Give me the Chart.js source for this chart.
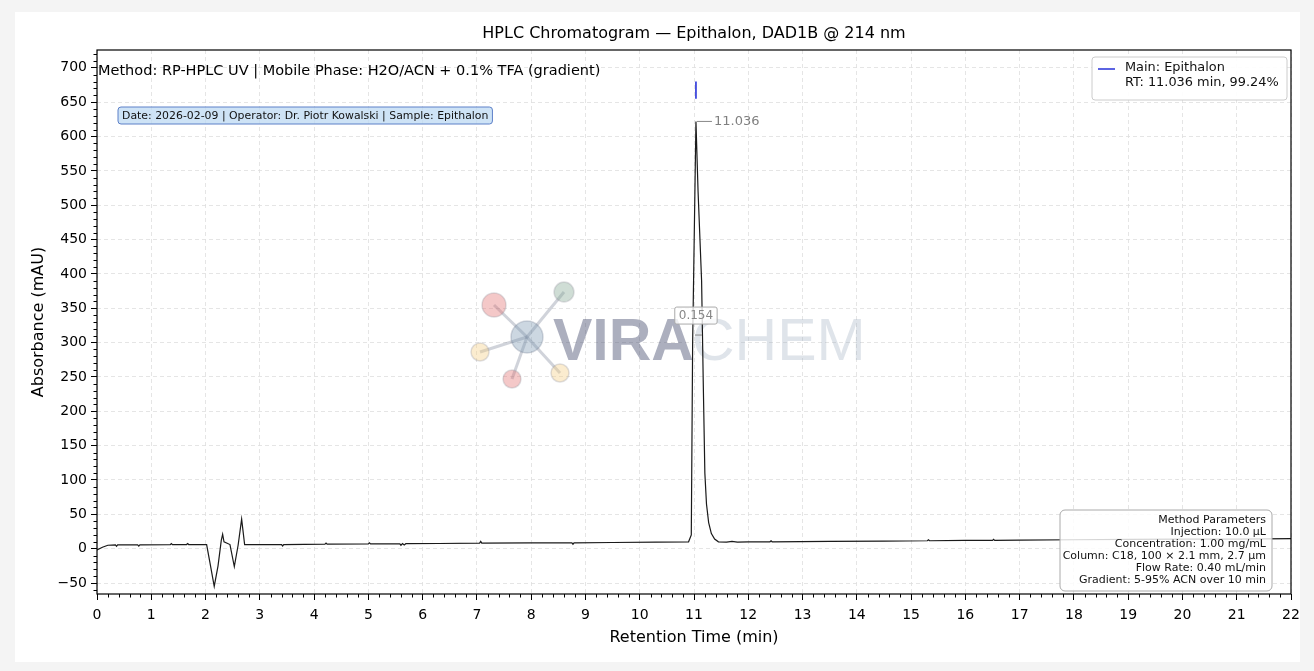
<!DOCTYPE html>
<html>
<head>
<meta charset="utf-8">
<script src="https://cdn.jsdelivr.net/npm/chart.js@4.4.1/dist/chart.umd.min.js"></script>
<style>
  html, body { margin: 0; padding: 0; background: #f4f4f4; }
  canvas { display: block; }
</style>
</head>
<body>
<canvas id="chart" width="1314" height="671"></canvas>
<script>
// retention time (min) and absorbance (mAU)
const times = [
  0.00, 0.10, 0.20, 0.34, 0.36, 0.38, 0.75, 0.77, 0.79, 1.35, 1.37, 1.39,
  1.65, 1.67, 1.69, 2.02, 2.08, 2.16, 2.23, 2.29, 2.315, 2.34, 2.45, 2.53,
  2.60, 2.665, 2.72, 3.00, 3.40, 3.42, 3.44, 4.20, 4.22, 4.24, 5.00, 5.02,
  5.04, 5.58, 5.60, 5.63, 5.66, 5.69, 6.30, 7.05, 7.07, 7.09, 8.00, 8.75,
  8.77, 8.79, 9.50, 10.30, 10.90, 10.95, 10.975, 11.036,
  11.075, 11.14, 11.17, 11.20, 11.23, 11.27, 11.32, 11.38, 11.45,
  11.60, 11.70, 11.80, 12.00, 12.40, 12.42, 12.44, 13.50, 14.50, 15.30, 15.32, 15.34,
  16.00, 16.50, 16.52, 16.54, 17.00, 18.00, 19.00, 20.00, 21.00, 22.00
];
const absorbance = [
  -2, 2, 5, 5.5, 3.5, 5.5, 5.5, 3.8, 5.6, 5.8, 7.5, 5.8,
  6, 7.5, 6, 6, -20, -55, -25, 12, 21, 10, 6, -26,
  5, 43, 6, 6, 6, 4, 6, 6.5, 8, 6.5, 7, 8.5,
  7, 7, 5, 7.5, 5.5, 7.2, 7.5, 8, 10.5, 8, 8.5, 8.5,
  6.5, 8.5, 9, 9.5, 10, 20, 300, 622,
  520, 390, 244, 110, 65, 38, 22, 14, 10,
  9.5, 10.5, 9.5, 10, 10, 11.5, 10, 10.5, 11, 11.5, 13, 11.5,
  12, 12, 13.5, 12, 12.5, 13, 13.5, 13.8, 14, 14.5
];

// main peak marker and summary
const markerTimes = [11.036, 11.036];
const markerLevels = [655, 680];
const peakRT = 11.036;
const peakHeight = 622;
const peakWidth = 0.154;
const peakPercent = 99.24;

const titleText = "HPLC Chromatogram — Epithalon, DAD1B @ 214 nm";
const methodText = "Method: RP-HPLC UV | Mobile Phase: H2O/ACN + 0.1% TFA (gradient)";
const infoText = "Date: 2026-02-09 | Operator: Dr. Piotr Kowalski | Sample: Epithalon";
const legendLines = ["Main: Epithalon", `RT: ${peakRT.toFixed(3)} min, ${peakPercent}%`];
const paramLines = [
  "Method Parameters",
  "Injection: 10.0 µL",
  "Concentration: 1.00 mg/mL",
  "Column: C18, 100 × 2.1 mm, 2.7 µm",
  "Flow Rate: 0.40 mL/min",
  "Gradient: 5-95% ACN over 10 min"
];

const FONT = "'DejaVu Sans', sans-serif";

function rrect(ctx, x, y, w, h, r) {
  ctx.beginPath();
  ctx.moveTo(x + r, y);
  ctx.arcTo(x + w, y, x + w, y + h, r);
  ctx.arcTo(x + w, y + h, x, y + h, r);
  ctx.arcTo(x, y + h, x, y, r);
  ctx.arcTo(x, y, x + w, y, r);
  ctx.closePath();
}

const pageBg = {
  id: "pageBg",
  beforeDraw(chart) {
    const ctx = chart.ctx;
    ctx.save();
    ctx.fillStyle = "#f4f4f4";
    ctx.fillRect(0, 0, chart.width, chart.height);
    ctx.fillStyle = "#ffffff";
    ctx.fillRect(15, 12, 1285, 650);
    ctx.restore();
  }
};

const watermark = {
  id: "watermark",
  beforeDatasetsDraw(chart) {
    const { ctx, chartArea: a } = chart;
    const cx = a.left + 430, cy = a.top + 287;
    const nodes = [
      [-33, -32, 12, "rgba(225,110,110,0.38)"],
      [37, -45, 10, "rgba(130,165,145,0.38)"],
      [-47, 15, 9, "rgba(245,205,130,0.38)"],
      [-15, 42, 9, "rgba(225,110,110,0.38)"],
      [33, 36, 9, "rgba(245,205,130,0.38)"]
    ];
    ctx.save();
    ctx.strokeStyle = "rgba(120,130,150,0.35)";
    ctx.lineWidth = 3;
    nodes.forEach(([dx, dy]) => {
      ctx.beginPath(); ctx.moveTo(cx, cy); ctx.lineTo(cx + dx, cy + dy); ctx.stroke();
    });
    nodes.forEach(([dx, dy, r, col]) => {
      ctx.beginPath(); ctx.arc(cx + dx, cy + dy, r, 0, Math.PI * 2);
      ctx.fillStyle = col; ctx.fill();
      ctx.lineWidth = 1.5; ctx.strokeStyle = "rgba(150,150,160,0.3)"; ctx.stroke();
    });
    ctx.beginPath(); ctx.arc(cx, cy, 16, 0, Math.PI * 2);
    ctx.fillStyle = "rgba(120,150,175,0.38)"; ctx.fill();
    ctx.strokeStyle = "rgba(120,130,150,0.3)"; ctx.stroke();

    ctx.textBaseline = "alphabetic";
    ctx.textAlign = "left";
    ctx.font = "bold 59px 'Liberation Sans', sans-serif";
    ctx.fillStyle = "rgba(70,78,110,0.45)";
    ctx.fillText("VIRA", cx + 26, cy + 23);
    const w = ctx.measureText("VIRA").width;
    ctx.font = "59px 'Liberation Sans', sans-serif";
    ctx.fillStyle = "rgba(150,165,185,0.3)";
    ctx.fillText("CHEM", cx + 24 + w, cy + 23);
    ctx.restore();
  }
};

const overlay = {
  id: "overlay",
  afterDraw(chart) {
    const { ctx, chartArea: a, scales: { x, y } } = chart;
    ctx.save();

    // frame
    ctx.strokeStyle = "#000";
    ctx.lineWidth = 1.2;
    ctx.strokeRect(a.left, a.top, a.right - a.left, a.bottom - a.top);

    // minor ticks
    ctx.lineWidth = 1;
    ctx.beginPath();
    for (let i = 1; i < 110; i++) {
      if (i % 5 === 0) continue;
      const px = Math.round(x.getPixelForValue(i * 0.2)) + 0.5;
      ctx.moveTo(px, a.bottom); ctx.lineTo(px, a.bottom + 3.5);
    }
    for (let v = -60; v <= 720; v += 10) {
      if (v % 50 === 0) continue;
      const py = Math.round(y.getPixelForValue(v)) + 0.5;
      ctx.moveTo(a.left, py); ctx.lineTo(a.left - 3.5, py);
    }
    ctx.stroke();

    // title
    ctx.fillStyle = "#000";
    ctx.font = "16px " + FONT;
    ctx.textAlign = "center";
    ctx.textBaseline = "middle";
    ctx.fillText(titleText, (a.left + a.right) / 2, 34);

    // method line
    ctx.font = "14.5px " + FONT;
    ctx.textAlign = "left";
    ctx.fillText(methodText, a.left + 1, a.top + 21);

    // info box
    ctx.font = "10.9px " + FONT;
    const iw = ctx.measureText(infoText).width + 8;
    rrect(ctx, a.left + 21, a.top + 57, iw, 17, 3);
    ctx.fillStyle = "rgba(190,218,243,0.75)"; ctx.fill();
    ctx.strokeStyle = "#5d80c8"; ctx.lineWidth = 1; ctx.stroke();
    ctx.fillStyle = "#111";
    ctx.fillText(infoText, a.left + 25, a.top + 66);

    // peak annotations
    const px = x.getPixelForValue(peakRT), py = y.getPixelForValue(peakHeight);
    ctx.strokeStyle = "#888"; ctx.lineWidth = 1;
    ctx.beginPath(); ctx.moveTo(px + 1, py); ctx.lineTo(px + 16, py); ctx.stroke();
    ctx.fillStyle = "#808080";
    ctx.font = "13px " + FONT;
    ctx.fillText(peakRT.toFixed(3), px + 18, py);

    const hy = y.getPixelForValue(peakHeight / 2);
    ctx.beginPath(); ctx.moveTo(px - 1, hy); ctx.lineTo(px + 6, hy); ctx.stroke();
    ctx.font = "12px " + FONT;
    const lbl = peakWidth.toFixed(3);
    const lw = ctx.measureText(lbl).width + 8;
    rrect(ctx, px - lw / 2, hy - 28, lw, 17, 2);
    ctx.fillStyle = "rgba(255,255,255,0.8)"; ctx.fill();
    ctx.strokeStyle = "#aaa"; ctx.stroke();
    ctx.fillStyle = "#888";
    ctx.textAlign = "center";
    ctx.fillText(lbl, px, hy - 19.5);

    // legend
    const lx = a.right - 199, ly = a.top + 7;
    rrect(ctx, lx, ly, 195, 43, 3);
    ctx.fillStyle = "rgba(255,255,255,0.9)"; ctx.fill();
    ctx.strokeStyle = "#cccccc"; ctx.stroke();
    ctx.strokeStyle = chart.data.datasets[1].borderColor; ctx.lineWidth = 1.5;
    ctx.beginPath(); ctx.moveTo(lx + 6, ly + 12); ctx.lineTo(lx + 23, ly + 12); ctx.stroke();
    ctx.fillStyle = "#111"; ctx.textAlign = "left";
    ctx.font = "12.9px " + FONT;
    legendLines.forEach((t, i) => ctx.fillText(t, lx + 33, ly + 11 + i * 15));

    // method parameter box
    const bx = a.right - 231, by = a.bottom - 84;
    rrect(ctx, bx, by, 212, 81, 5);
    ctx.fillStyle = "rgba(255,255,255,0.82)"; ctx.fill();
    ctx.strokeStyle = "#aaaaaa"; ctx.lineWidth = 1; ctx.stroke();
    ctx.fillStyle = "#111"; ctx.textAlign = "right";
    ctx.font = "11px " + FONT;
    paramLines.forEach((t, i) => ctx.fillText(t, a.right - 25, by + 10 + i * 12));

    ctx.restore();
  }
};

new Chart(document.getElementById("chart"), {
  type: "line",
  data: {
    datasets: [
      {
        label: "DAD1B",
        data: times.map((t, i) => ({ x: t, y: absorbance[i] })),
        borderColor: "#1a1a1a",
        borderWidth: 1.2,
        pointRadius: 0,
        tension: 0
      },
      {
        label: legendLines.join(" "),
        data: markerTimes.map((t, i) => ({ x: t, y: markerLevels[i] })),
        borderColor: "#2630d8",
        borderWidth: 1.6,
        pointRadius: 0
      }
    ]
  },
  options: {
    responsive: false,
    animation: false,
    layout: { padding: { left: 15, right: 23, top: 50, bottom: 0 } },
    plugins: { legend: { display: false }, tooltip: { enabled: false }, title: { display: false } },
    scales: {
      x: {
        type: "linear",
        min: 0, max: 22,
        afterFit: s => { s.height = 77; },
        ticks: { stepSize: 1, autoSkip: false, maxRotation: 0, padding: 7, color: "#000", font: { family: FONT, size: 14 } },
        grid: { color: "#dedede", lineWidth: 0.8, tickColor: "#000", tickLength: 6, tickWidth: 1 },
        border: { display: false, dash: [4, 3] },
        title: { display: true, text: "Retention Time (min)", color: "#000", font: { family: FONT, size: 16 }, padding: { top: 0, bottom: 24 } }
      },
      y: {
        min: -66, max: 726,
        afterFit: s => { s.width = 82; },
        ticks: {
          stepSize: 50, includeBounds: false, padding: 4, color: "#000",
          font: { family: FONT, size: 14 },
          callback: v => String(v).replace("-", "\u2212")
        },
        grid: { color: "#dedede", lineWidth: 0.8, tickColor: "#000", tickLength: 6, tickWidth: 1 },
        border: { display: false, dash: [4, 3] },
        title: { display: true, text: "Absorbance (mAU)", color: "#000", font: { family: FONT, size: 16 }, padding: { top: 14, bottom: 0 } }
      }
    }
  },
  plugins: [pageBg, watermark, overlay]
});
</script>
</body>
</html>
